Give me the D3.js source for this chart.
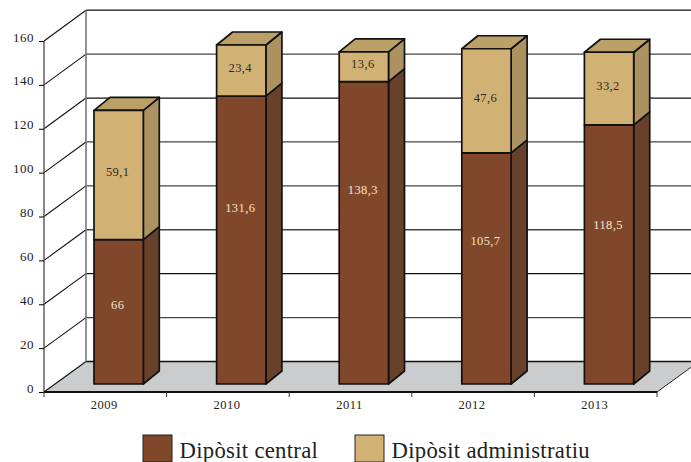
<!DOCTYPE html>
<html><head><meta charset="utf-8">
<script src="https://cdn.jsdelivr.net/npm/d3@7/dist/d3.min.js"></script>
<style>html,body{margin:0;padding:0;background:#fff}svg{display:block}text{font-family:"Liberation Serif",serif}</style>
</head><body><div id="c"></div>
<script>
const years = ["2009","2010","2011","2012","2013"];
const central = [66,131.6,138.3,105.7,118.5];
const admin = [59.1,23.4,13.6,47.6,33.2];
const centralLabels = ["66","131,6","138,3","105,7","118,5"];
const adminLabels = ["59,1","23,4","13,6","47,6","33,2"];
const yTicks = [0,20,40,60,80,100,120,140,160];
const names = ["Dipòsit central","Dipòsit administratiu"];
// where each central label sits along its segment, as a share of the segment height
const centralLabelShare = [0.55,0.61,0.64,0.62,0.615];

const W=691,H=462;
const svg=d3.select("#c").append("svg").attr("width",W).attr("height",H);
const y=d3.scaleLinear().domain([0,160]).range([392,41]);
const yBack=d3.scaleLinear().domain([0,160]).range([361.5,10.2]);
const yBar=d3.scaleLinear().domain([0,160]).range([384,384-160*2.187]);
const x=d3.scaleBand().domain(years).range([44,657]);
const wallDx=42, barW=49.3, sideDx=16, sideDy=-13;

// floor
svg.append("polygon").attr("fill","#cbccce")
  .attr("points",[[44,y(0)],[44+wallDx,yBack(0)],[657+wallDx,yBack(0)],[657,y(0)]].join(" "));
// gridlines
yTicks.forEach(t=>{
  svg.append("line").attr("x1",44+wallDx).attr("x2",W).attr("y1",yBack(t)).attr("y2",yBack(t))
    .attr("stroke",t===40||t===160||t===0||t===120?"#111":"#444").attr("stroke-width",1.3);
  svg.append("line").attr("x1",44).attr("x2",44+wallDx).attr("y1",y(t)).attr("y2",yBack(t))
    .attr("stroke","#111").attr("stroke-width",1.1);
});
svg.append("line").attr("x1",44+wallDx).attr("x2",44+wallDx).attr("y1",yBack(0)).attr("y2",yBack(160)).attr("stroke","#777").attr("stroke-width",1.6);
svg.append("line").attr("x1",657).attr("x2",657+wallDx).attr("y1",y(0)).attr("y2",yBack(0)).attr("stroke","#222").attr("stroke-width",1);
// axes
const ay=svg.append("g").attr("transform","translate(44,0)").call(d3.axisLeft(y).tickValues(yTicks).tickSize(5).tickPadding(5).tickFormat(d3.format("d")));
ay.select(".domain").attr("stroke","#555").attr("stroke-width",1.4).attr("d",`M0,${y(160)}V${y(0)}`);
ay.selectAll("text").attr("font-size",13).attr("letter-spacing",0.5).attr("fill","#222").attr("dy","0").attr("y",0).attr("font-family","Liberation Serif");
const ax=svg.append("g").attr("transform",`translate(0,${y(0)})`);
ax.append("line").attr("x1",44).attr("x2",657).attr("stroke","#111").attr("stroke-width",2);
[...years.map(d=>x(d)),x.range()[1]].forEach(v=>ax.append("line").attr("x1",v).attr("x2",v).attr("y1",0).attr("y2",5).attr("stroke","#333").attr("stroke-width",1));
ax.selectAll("text.yr").data(years).join("text").attr("class","yr").attr("x",d=>x(d)+x.bandwidth()/2-1).attr("y",17)
  .attr("text-anchor","middle").attr("font-size",12.5).attr("letter-spacing",0.5).attr("fill","#222").text(d=>d);

// bars
const barX=d=>x(d)+(x.bandwidth()-barW)/2+13.35;
function box(g,x0,v0,v1,front,side,top){
  const yt=yBar(v1),yb=yBar(v0),st={stroke:"#111","stroke-width":1.7,"stroke-linejoin":"round"};
  const p=(pts,f)=>{const e=g.append("polygon").attr("points",pts.join(" ")).attr("fill",f);Object.entries(st).forEach(([k,w])=>e.attr(k,w));};
  p([[x0+barW,yb],[x0+barW+sideDx,yb+sideDy],[x0+barW+sideDx,yt+sideDy],[x0+barW,yt]],side);
  if(top)p([[x0,yt],[x0+sideDx,yt+sideDy],[x0+barW+sideDx,yt+sideDy],[x0+barW,yt]],top);
  p([[x0,yb],[x0+barW,yb],[x0+barW,yt],[x0,yt]],front);
}
years.forEach((d,i)=>{
  const g=svg.append("g"),x0=barX(d),a=central[i],b=a+admin[i];
  box(g,x0,0,a,"#80472a","#67412a",null);
  box(g,x0,a,b,"#d2b174","#ab9260","#bba067");
  g.append("text").attr("x",x0+barW/2-1).attr("y",yBar(a*centralLabelShare[i])+4).attr("text-anchor","middle").attr("font-size",12.5).attr("letter-spacing",0.4).attr("fill","#f3e4cf").text(centralLabels[i]);
  g.append("text").attr("x",x0+barW/2-1).attr("y",(yBar(a)+yBar(b))/2+1).attr("text-anchor","middle").attr("font-size",12.5).attr("letter-spacing",0.4).attr("fill","#2b2b2b").text(adminLabels[i]);
});

// legend
const legX=[143,355],legC=["#80472a","#d2b174"];
names.forEach((n,i)=>{
  svg.append("rect").attr("x",legX[i]).attr("y",435).attr("width",29).attr("height",27).attr("fill",legC[i]).attr("stroke","#222").attr("stroke-width",1);
  svg.append("text").attr("x",legX[i]+36.5).attr("y",458).attr("font-size",22.7).attr("letter-spacing",0.3).attr("fill","#222").text(n);
});
</script></body></html>
